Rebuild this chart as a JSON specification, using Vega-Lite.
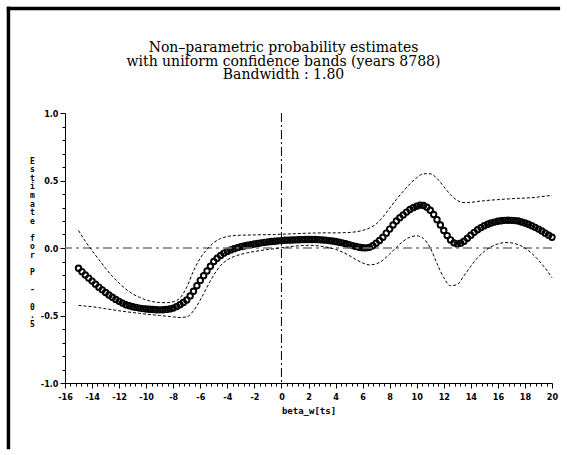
{
  "$schema": "https://vega.github.io/schema/vega-lite/v6.json",
  "autosize": "none",
  "width": 487,
  "height": 270,
  "padding": {"left": 65, "top": 113, "right": 15, "bottom": 72},
  "background": "white",
  "title": {
    "text": ["Non\u2013parametric probability estimates", "with uniform confidence bands (years 8788)", "Bandwidth : 1.80"],
    "font": "DejaVu Serif",
    "fontSize": 14,
    "fontWeight": "normal",
    "lineHeight": 13.5,
    "anchor": "middle",
    "frame": "group",
    "dx": -25,
    "offset": -77,
    "color": "black"
  },
  "config": {
    "view": {"stroke": null},
    "axis": {
      "domainColor": "black",
      "tickColor": "black",
      "labelColor": "black",
      "titleColor": "black",
      "grid": false,
      "labelFont": "DejaVu Sans Condensed",
      "labelFontWeight": "bold",
      "labelFontSize": 9,
      "titleFont": "DejaVu Sans Mono",
      "titleFontWeight": "bold",
      "titleFontSize": 8
    }
  },
  "resolve": {"axis": {"x": "independent", "y": "independent"}},
  "datasets": {
    "estimate": [
      {"x": -15, "est": -0.150}, {"x": -14.75, "est": -0.175}, {"x": -14.5, "est": -0.200}, {"x": -14.25, "est": -0.223},
      {"x": -14, "est": -0.245}, {"x": -13.75, "est": -0.268}, {"x": -13.5, "est": -0.290}, {"x": -13.25, "est": -0.310},
      {"x": -13, "est": -0.330}, {"x": -12.75, "est": -0.348}, {"x": -12.5, "est": -0.365}, {"x": -12.25, "est": -0.381},
      {"x": -12, "est": -0.395}, {"x": -11.75, "est": -0.408}, {"x": -11.5, "est": -0.420}, {"x": -11.25, "est": -0.428},
      {"x": -11, "est": -0.435}, {"x": -10.75, "est": -0.440}, {"x": -10.5, "est": -0.445}, {"x": -10.25, "est": -0.449},
      {"x": -10, "est": -0.452}, {"x": -9.75, "est": -0.454}, {"x": -9.5, "est": -0.456}, {"x": -9.25, "est": -0.457},
      {"x": -9, "est": -0.458}, {"x": -8.75, "est": -0.457}, {"x": -8.5, "est": -0.455}, {"x": -8.25, "est": -0.451},
      {"x": -8, "est": -0.445}, {"x": -7.75, "est": -0.434}, {"x": -7.5, "est": -0.420}, {"x": -7.25, "est": -0.404},
      {"x": -7, "est": -0.385}, {"x": -6.75, "est": -0.355}, {"x": -6.5, "est": -0.320}, {"x": -6.25, "est": -0.280},
      {"x": -6, "est": -0.240}, {"x": -5.75, "est": -0.205}, {"x": -5.5, "est": -0.170}, {"x": -5.25, "est": -0.135},
      {"x": -5, "est": -0.100}, {"x": -4.75, "est": -0.076}, {"x": -4.5, "est": -0.055}, {"x": -4.25, "est": -0.038},
      {"x": -4, "est": -0.025}, {"x": -3.75, "est": -0.014}, {"x": -3.5, "est": -0.005}, {"x": -3.25, "est": 0.003},
      {"x": -3, "est": 0.010}, {"x": -2.75, "est": 0.015}, {"x": -2.5, "est": 0.020}, {"x": -2.25, "est": 0.025},
      {"x": -2, "est": 0.030}, {"x": -1.75, "est": 0.034}, {"x": -1.5, "est": 0.038}, {"x": -1.25, "est": 0.042},
      {"x": -1, "est": 0.045}, {"x": -0.75, "est": 0.048}, {"x": -0.5, "est": 0.050}, {"x": -0.25, "est": 0.053},
      {"x": 0, "est": 0.055}, {"x": 0.25, "est": 0.057}, {"x": 0.5, "est": 0.058}, {"x": 0.75, "est": 0.059},
      {"x": 1, "est": 0.060}, {"x": 1.25, "est": 0.061}, {"x": 1.5, "est": 0.062}, {"x": 1.75, "est": 0.063},
      {"x": 2, "est": 0.063}, {"x": 2.25, "est": 0.063}, {"x": 2.5, "est": 0.063}, {"x": 2.75, "est": 0.062},
      {"x": 3, "est": 0.060}, {"x": 3.25, "est": 0.058}, {"x": 3.5, "est": 0.055}, {"x": 3.75, "est": 0.052},
      {"x": 4, "est": 0.048}, {"x": 4.25, "est": 0.043}, {"x": 4.5, "est": 0.038}, {"x": 4.75, "est": 0.032},
      {"x": 5, "est": 0.025}, {"x": 5.25, "est": 0.018}, {"x": 5.5, "est": 0.012}, {"x": 5.75, "est": 0.006},
      {"x": 6, "est": 0.002}, {"x": 6.25, "est": 0.001}, {"x": 6.5, "est": 0.005}, {"x": 6.75, "est": 0.017},
      {"x": 7, "est": 0.035}, {"x": 7.25, "est": 0.056}, {"x": 7.5, "est": 0.080}, {"x": 7.75, "est": 0.110},
      {"x": 8, "est": 0.140}, {"x": 8.25, "est": 0.170}, {"x": 8.5, "est": 0.200}, {"x": 8.75, "est": 0.224},
      {"x": 9, "est": 0.245}, {"x": 9.25, "est": 0.266}, {"x": 9.5, "est": 0.285}, {"x": 9.75, "est": 0.299},
      {"x": 10, "est": 0.310}, {"x": 10.25, "est": 0.318}, {"x": 10.5, "est": 0.315}, {"x": 10.75, "est": 0.302},
      {"x": 11, "est": 0.280}, {"x": 11.25, "est": 0.248}, {"x": 11.5, "est": 0.210}, {"x": 11.75, "est": 0.170},
      {"x": 12, "est": 0.130}, {"x": 12.25, "est": 0.092}, {"x": 12.5, "est": 0.060}, {"x": 12.75, "est": 0.038},
      {"x": 13, "est": 0.030}, {"x": 13.25, "est": 0.036}, {"x": 13.5, "est": 0.050}, {"x": 13.75, "est": 0.072},
      {"x": 14, "est": 0.095}, {"x": 14.25, "est": 0.116}, {"x": 14.5, "est": 0.135}, {"x": 14.75, "est": 0.151},
      {"x": 15, "est": 0.165}, {"x": 15.25, "est": 0.176}, {"x": 15.5, "est": 0.185}, {"x": 15.75, "est": 0.192},
      {"x": 16, "est": 0.198}, {"x": 16.25, "est": 0.202}, {"x": 16.5, "est": 0.205}, {"x": 16.75, "est": 0.206},
      {"x": 17, "est": 0.205}, {"x": 17.25, "est": 0.203}, {"x": 17.5, "est": 0.200}, {"x": 17.75, "est": 0.193},
      {"x": 18, "est": 0.185}, {"x": 18.25, "est": 0.176}, {"x": 18.5, "est": 0.165}, {"x": 18.75, "est": 0.153},
      {"x": 19, "est": 0.140}, {"x": 19.25, "est": 0.126}, {"x": 19.5, "est": 0.110}, {"x": 19.75, "est": 0.095},
      {"x": 20, "est": 0.080}
    ],
    "bands": [
      {"x": -15, "upper": 0.13, "lower": -0.425}, {"x": -14.5, "upper": 0.05, "lower": -0.43},
      {"x": -14, "upper": -0.02, "lower": -0.435}, {"x": -13.5, "upper": -0.085, "lower": -0.442},
      {"x": -13, "upper": -0.15, "lower": -0.45}, {"x": -12.5, "upper": -0.21, "lower": -0.457},
      {"x": -12, "upper": -0.26, "lower": -0.465}, {"x": -11.5, "upper": -0.305, "lower": -0.472},
      {"x": -11, "upper": -0.34, "lower": -0.478}, {"x": -10.5, "upper": -0.365, "lower": -0.484},
      {"x": -10, "upper": -0.385, "lower": -0.49}, {"x": -9.5, "upper": -0.398, "lower": -0.495},
      {"x": -9, "upper": -0.404, "lower": -0.5}, {"x": -8.5, "upper": -0.405, "lower": -0.505},
      {"x": -8, "upper": -0.398, "lower": -0.51}, {"x": -7.5, "upper": -0.37, "lower": -0.515},
      {"x": -7, "upper": -0.29, "lower": -0.51}, {"x": -6.5, "upper": -0.17, "lower": -0.465},
      {"x": -6, "upper": -0.075, "lower": -0.385}, {"x": -5.5, "upper": -0.01, "lower": -0.29},
      {"x": -5, "upper": 0.04, "lower": -0.2}, {"x": -4.5, "upper": 0.07, "lower": -0.13},
      {"x": -4, "upper": 0.085, "lower": -0.088}, {"x": -3.5, "upper": 0.092, "lower": -0.063},
      {"x": -3, "upper": 0.095, "lower": -0.047}, {"x": -2.5, "upper": 0.096, "lower": -0.035},
      {"x": -2, "upper": 0.097, "lower": -0.026}, {"x": -1.5, "upper": 0.098, "lower": -0.018},
      {"x": -1, "upper": 0.099, "lower": -0.011}, {"x": -0.5, "upper": 0.1, "lower": -0.005},
      {"x": 0, "upper": 0.102, "lower": 0.002}, {"x": 0.5, "upper": 0.104, "lower": 0.008},
      {"x": 1, "upper": 0.106, "lower": 0.014}, {"x": 1.5, "upper": 0.108, "lower": 0.018},
      {"x": 2, "upper": 0.11, "lower": 0.02}, {"x": 2.5, "upper": 0.111, "lower": 0.018},
      {"x": 3, "upper": 0.112, "lower": 0.012}, {"x": 3.5, "upper": 0.112, "lower": 0.003},
      {"x": 4, "upper": 0.112, "lower": -0.01}, {"x": 4.5, "upper": 0.113, "lower": -0.03},
      {"x": 5, "upper": 0.115, "lower": -0.055}, {"x": 5.5, "upper": 0.12, "lower": -0.085},
      {"x": 6, "upper": 0.13, "lower": -0.11}, {"x": 6.5, "upper": 0.148, "lower": -0.125},
      {"x": 7, "upper": 0.178, "lower": -0.118}, {"x": 7.5, "upper": 0.23, "lower": -0.09},
      {"x": 8, "upper": 0.295, "lower": -0.045}, {"x": 8.5, "upper": 0.36, "lower": 0.005},
      {"x": 9, "upper": 0.42, "lower": 0.05}, {"x": 9.5, "upper": 0.475, "lower": 0.08},
      {"x": 10, "upper": 0.52, "lower": 0.09}, {"x": 10.5, "upper": 0.55, "lower": 0.07},
      {"x": 11, "upper": 0.55, "lower": 0.0}, {"x": 11.5, "upper": 0.515, "lower": -0.115},
      {"x": 12, "upper": 0.455, "lower": -0.22}, {"x": 12.5, "upper": 0.395, "lower": -0.28},
      {"x": 13, "upper": 0.352, "lower": -0.27}, {"x": 13.5, "upper": 0.336, "lower": -0.205},
      {"x": 14, "upper": 0.338, "lower": -0.135}, {"x": 14.5, "upper": 0.345, "lower": -0.072},
      {"x": 15, "upper": 0.35, "lower": -0.025}, {"x": 15.5, "upper": 0.355, "lower": 0.01},
      {"x": 16, "upper": 0.358, "lower": 0.03}, {"x": 16.5, "upper": 0.362, "lower": 0.04},
      {"x": 17, "upper": 0.365, "lower": 0.038}, {"x": 17.5, "upper": 0.368, "lower": 0.025},
      {"x": 18, "upper": 0.37, "lower": 0.0}, {"x": 18.5, "upper": 0.373, "lower": -0.04},
      {"x": 19, "upper": 0.378, "lower": -0.09}, {"x": 19.5, "upper": 0.384, "lower": -0.15},
      {"x": 20, "upper": 0.39, "lower": -0.22}
    ]
  },
  "layer": [
    {
      "data": {"name": "estimate"},
      "mark": {"type": "point", "shape": "circle", "filled": false, "stroke": "black", "strokeWidth": 1.9, "size": 30, "opacity": 1},
      "encoding": {
        "x": {
          "field": "x", "type": "quantitative",
          "scale": {"domain": [-16, 20], "nice": false, "zero": false},
          "axis": {
            "title": "beta_w[ts]",
            "titleFontSize": 9,
            "titlePadding": 5,
            "values": [-16, -15.6, -15.2, -14.8, -14.4, -14, -13.6, -13.2, -12.8, -12.4, -12, -11.6, -11.2, -10.8, -10.4, -10, -9.6, -9.2, -8.8, -8.4, -8, -7.6, -7.2, -6.8, -6.4, -6, -5.6, -5.2, -4.8, -4.4, -4, -3.6, -3.2, -2.8, -2.4, -2, -1.6, -1.2, -0.8, -0.4, 0, 0.4, 0.8, 1.2, 1.6, 2, 2.4, 2.8, 3.2, 3.6, 4, 4.4, 4.8, 5.2, 5.6, 6, 6.4, 6.8, 7.2, 7.6, 8, 8.4, 8.8, 9.2, 9.6, 10, 10.4, 10.8, 11.2, 11.6, 12, 12.4, 12.8, 13.2, 13.6, 14, 14.4, 14.8, 15.2, 15.6, 16, 16.4, 16.8, 17.2, 17.6, 18, 18.4, 18.8, 19.2, 19.6, 20],
            "labelExpr": "abs(datum.value/2 - round(datum.value/2)) < 0.01 ? toString(round(datum.value)) : ''",
            "tickSize": {"condition": {"test": "abs(datum.value/2 - round(datum.value/2)) < 0.01", "value": 5}, "value": 3},
            "labelPadding": 4,
            "labelOverlap": false,
            "labelFlush": false
          }
        },
        "y": {
          "field": "est", "type": "quantitative",
          "scale": {"domain": [-1, 1], "nice": false, "zero": false},
          "axis": {
            "title": ["E", "s", "t", "i", "m", "a", "t", "e", "\u2800", "f", "o", "r", "\u2800", "P", "\u2800", "-", "\u2800", "0", ".", "5"],
            "titleAngle": 0,
            "titleAlign": "center",
            "titleBaseline": "top",
            "titleLineHeight": 8.6,
            "titleX": -33,
            "titleY": 44,
            "values": [-1, -0.9, -0.8, -0.7, -0.6, -0.5, -0.4, -0.3, -0.2, -0.1, 0, 0.1, 0.2, 0.3, 0.4, 0.5, 0.6, 0.7, 0.8, 0.9, 1],
            "labelExpr": "abs(datum.value*2 - round(datum.value*2)) < 0.01 ? replace(format(datum.value, '.1f'), '\u2212', '-') : ''",
            "tickSize": {"condition": {"test": "abs(datum.value*2 - round(datum.value*2)) < 0.01", "value": 5}, "value": 3},
            "labelPadding": 2,
            "labelOverlap": false,
            "labelFlush": false
          }
        }
      }
    },
    {
      "data": {"values": [{}]},
      "mark": {"type": "rule", "color": "black", "strokeWidth": 3.5, "clip": false},
      "encoding": {
        "x": {"datum": -20.3, "type": "quantitative", "axis": null},
        "x2": {"datum": 20.6},
        "y": {"datum": 1.774, "type": "quantitative", "axis": null}
      }
    },
    {
      "data": {"values": [{}]},
      "mark": {"type": "rule", "color": "black", "strokeWidth": 3.5, "clip": false},
      "encoding": {
        "x": {"datum": -20.18, "type": "quantitative", "axis": null},
        "y": {"datum": 1.787, "type": "quantitative", "axis": null},
        "y2": {"datum": -1.49}
      }
    },
    {
      "data": {"values": [{}]},
      "mark": {"type": "rule", "color": "#7a7a7a", "strokeWidth": 1.3, "strokeDash": [9, 4, 3, 4]},
      "encoding": {
        "y": {"datum": 0, "type": "quantitative", "axis": null}
      }
    },
    {
      "data": {"values": [{}]},
      "mark": {"type": "rule", "color": "black", "strokeWidth": 1, "strokeDash": [9, 3, 2, 3]},
      "encoding": {
        "x": {"datum": 0, "type": "quantitative", "axis": null}
      }
    },
    {
      "data": {"name": "bands"},
      "mark": {"type": "line", "color": "black", "strokeWidth": 1, "strokeDash": [3, 2], "interpolate": "monotone"},
      "encoding": {
        "x": {"field": "x", "type": "quantitative", "axis": null},
        "y": {"field": "upper", "type": "quantitative", "axis": null}
      }
    },
    {
      "data": {"name": "bands"},
      "mark": {"type": "line", "color": "black", "strokeWidth": 1, "strokeDash": [3, 2], "interpolate": "monotone"},
      "encoding": {
        "x": {"field": "x", "type": "quantitative", "axis": null},
        "y": {"field": "lower", "type": "quantitative", "axis": null}
      }
    }
  ]
}
